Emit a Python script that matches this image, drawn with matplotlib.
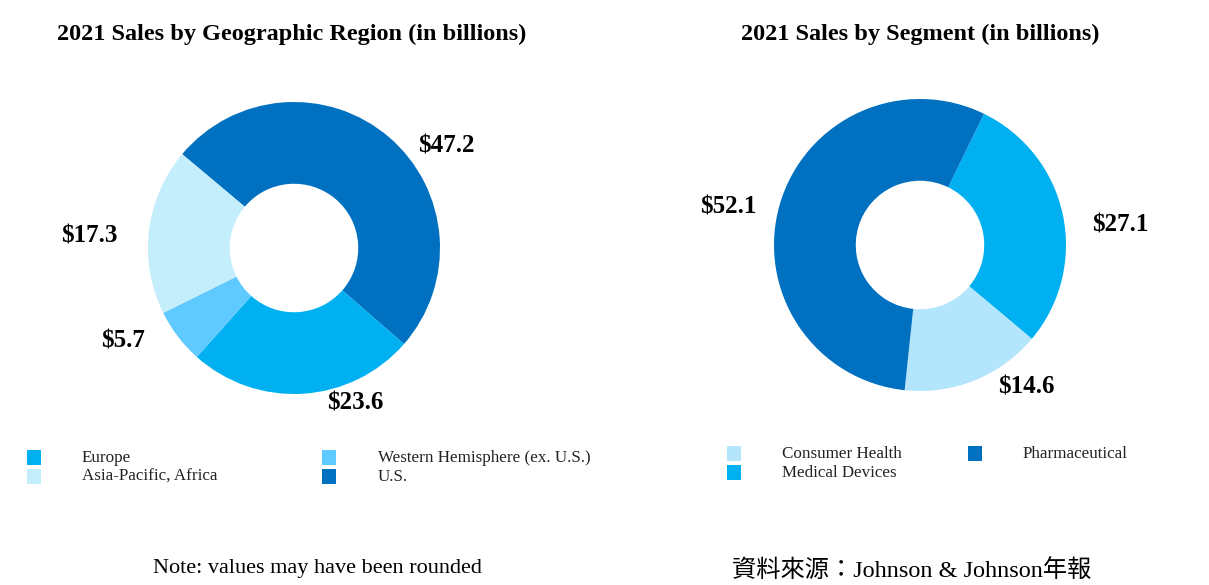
import matplotlib

matplotlib.use("Agg")
import matplotlib.pyplot as plt
from matplotlib.patches import Rectangle

# ── data ────────────────────────────────────────────────────────────────
REGION_LABELS = ["U.S.", "Europe", "Western Hemisphere (ex. U.S.)", "Asia-Pacific, Africa"]
REGION_VALUES = [47.2, 23.6, 5.7, 17.3]
SEGMENT_LABELS = ["Medical Devices", "Consumer Health", "Pharmaceutical"]
SEGMENT_VALUES = [27.1, 14.6, 52.1]

# ── styles / layout ─────────────────────────────────────────────────────
REGION_COLORS = ["#0070c0", "#00b0f0", "#5fcaff", "#c5eefd"]
SEGMENT_COLORS = ["#00b0f0", "#b3e6fc", "#0070c0"]
SERIF = "Liberation Serif"
W, H = 1209, 585
RADIUS_PX = 146
HOLE = 0.44

# value-label spots, in units of the donut radius
REGION_TEXT_POS = [(1.04, 0.70), (0.42, -1.06), (-1.17, -0.64), (-1.40, 0.08)]
SEGMENT_TEXT_POS = [(1.37, 0.14), (0.73, -0.97), (-1.31, 0.26)]


def donut(fig, cx, cy, values, colors, start, text_pos):
    ax = fig.add_axes([(cx - RADIUS_PX) / W, 1 - (cy + RADIUS_PX) / H,
                       2 * RADIUS_PX / W, 2 * RADIUS_PX / H])
    ax.pie(values, colors=colors, startangle=start, counterclock=False,
           radius=1.0, wedgeprops=dict(width=1 - HOLE, linewidth=0))
    ax.set_xlim(-1, 1)
    ax.set_ylim(-1, 1)
    ax.set_aspect("equal")
    ax.axis("off")
    for v, (x, y) in zip(values, text_pos):
        ax.text(x, y, f"${v:.1f}", ha="center", va="center", fontsize=18,
                fontweight="bold", family=SERIF, clip_on=False)
    return ax


def legend_block(fig, entries, colors):
    # entries: (label, marker x px, text x px, row y px)
    for (label, mx, tx, y), c in zip(entries, colors):
        fig.patches.append(Rectangle((mx / W, 1 - (y + 8) / H), 14 / W, 15 / H,
                                     transform=fig.transFigure, color=c,
                                     linewidth=0))
        fig.text(tx / W, 1 - (y + 1) / H, label, ha="left", va="center",
                 fontsize=12.25, family=SERIF, color="#222222")


fig = plt.figure(figsize=(W / 100, H / 100), dpi=100)

fig.text(292 / W, 1 - 34 / H, "2021 Sales by Geographic Region (in billions)",
         ha="center", va="center", fontsize=17.5, fontweight="bold", family=SERIF)
fig.text(920 / W, 1 - 34 / H, "2021 Sales by Segment (in billions)",
         ha="center", va="center", fontsize=17.5, fontweight="bold", family=SERIF)

donut(fig, 294, 248, REGION_VALUES, REGION_COLORS, 140, REGION_TEXT_POS)
donut(fig, 920, 245, SEGMENT_VALUES, SEGMENT_COLORS, 64, SEGMENT_TEXT_POS)

legend_block(fig,
             [(REGION_LABELS[1], 27, 82, 457),
              (REGION_LABELS[3], 27, 82, 476),
              (REGION_LABELS[2], 322, 378, 457),
              (REGION_LABELS[0], 322, 378, 476)],
             [REGION_COLORS[1], REGION_COLORS[3], REGION_COLORS[2], REGION_COLORS[0]])
legend_block(fig,
             [(SEGMENT_LABELS[1], 727, 782, 453),
              (SEGMENT_LABELS[0], 727, 782, 472),
              (SEGMENT_LABELS[2], 968, 1023, 453)],
             [SEGMENT_COLORS[1], SEGMENT_COLORS[0], SEGMENT_COLORS[2]])

fig.text(317 / W, 1 - 568 / H, "Note: values may have been rounded",
         ha="center", va="center", fontsize=16, family=SERIF)
fig.text(732 / W, 1 - 570 / H, "資料來源：Johnson & Johnson年報",
         ha="left", va="center", fontsize=17.5,
         family=[SERIF, "Noto Sans CJK TC"])

fig.savefig("out.png", dpi=100)
